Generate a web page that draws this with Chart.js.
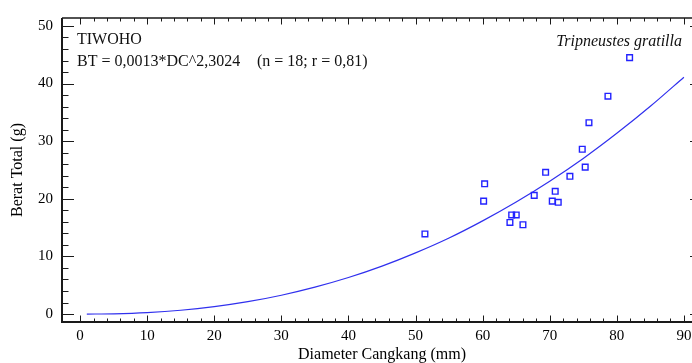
<!DOCTYPE html>
<html><head><meta charset="utf-8">
<script src="https://cdn.jsdelivr.net/npm/chart.js@4.4.0/dist/chart.umd.min.js"></script>
<style>html,body{margin:0;padding:0;background:#fff;overflow:hidden;width:692px;height:363px}canvas{display:block}</style>
</head><body>
<canvas id="c" width="712" height="363" style="width:712px;height:363px"></canvas>
<script>
// Observed data (Diameter Cangkang mm vs Berat Total g)
const diameter = [51.4, 60.3, 60.15, 64.07, 64.33, 65.01, 66.01, 67.69, 69.39, 70.82, 70.38, 71.27, 73.01, 74.85, 75.29, 75.85, 78.68, 81.91];
const beratTotal = [13.9, 22.6, 19.6, 15.9, 17.2, 17.2, 15.5, 20.6, 24.6, 21.3, 19.6, 19.4, 23.9, 28.6, 25.5, 33.2, 37.8, 44.5];
// Fitted curve
const curveX = [1, 5, 10, 15, 20, 25, 30, 35, 40, 45, 50, 55, 60, 65, 70, 75, 80, 85, 90];
const curveY = [0.0, 0.05, 0.26, 0.66, 1.29, 2.15, 3.27, 4.67, 6.34, 8.32, 10.62, 13.2, 16.17, 19.44, 23.05, 27.0, 31.36, 36.05, 41.1];
// Tick labels
const xTicks = [0, 10, 20, 30, 40, 50, 60, 70, 80, 90];
const yTicks = [0, 10, 20, 30, 40, 50];
const minorStep = 2;

const FONT = 'Liberation Serif';
const AXIS = '#1a1a1a';

const framePlugin = {
  id: 'frame',
  afterDatasetsDraw(chart) {
    const {ctx, chartArea: a, scales: {x, y}} = chart;
    ctx.save();
    ctx.strokeStyle = AXIS;
    ctx.lineWidth = 1;
    const x0 = xTicks[0], x1 = xTicks[xTicks.length - 1];
    const y0 = yTicks[0], y1 = yTicks[yTicks.length - 1];
    ctx.beginPath();
    for (let v = x0; v <= x1 + 1e-9; v += minorStep) {
      const px = Math.round(x.getPixelForValue(v)) + 0.5;
      const major = Math.abs(v % 10) < 1e-9;
      const len = major ? 6.5 : 3.5;
      ctx.moveTo(px, a.bottom); ctx.lineTo(px, a.bottom - len);
      ctx.moveTo(px, a.top); ctx.lineTo(px, a.top + len);
    }
    for (let v = y0; v <= y1 + 1e-9; v += minorStep) {
      const py = Math.round(y.getPixelForValue(v)) + 0.5;
      const major = Math.abs(v % 10) < 1e-9;
      const len = major ? 12 : 6.5;
      ctx.moveTo(a.left, py); ctx.lineTo(a.left + len, py);
      ctx.moveTo(a.right, py); ctx.lineTo(a.right - len, py);
    }
    ctx.stroke();
    ctx.lineWidth = 2;
    ctx.beginPath();
    ctx.moveTo(a.left, a.top); ctx.lineTo(a.left, a.bottom); ctx.lineTo(a.right, a.bottom);
    ctx.stroke();
    ctx.lineWidth = 1.6;
    ctx.beginPath();
    ctx.moveTo(a.left, a.top); ctx.lineTo(a.right, a.top); ctx.lineTo(a.right, a.bottom);
    ctx.stroke();
    ctx.restore();
  },
  afterDraw(chart) {
    const {ctx, chartArea: a} = chart;
    ctx.save();
    ctx.fillStyle = '#111';
    ctx.textBaseline = 'alphabetic';
    ctx.font = '16px "' + FONT + '"';
    ctx.textAlign = 'left';
    ctx.fillText('TIWOHO', a.left + 15, a.top + 26);
    ctx.fillText('BT = 0,0013*DC^2,3024', a.left + 15, a.top + 48);
    ctx.fillText('(n = 18; r = 0,81)', a.left + 195, a.top + 48);
    ctx.font = 'italic 16px "' + FONT + '"';
    ctx.textAlign = 'right';
    ctx.fillText('Tripneustes gratilla', a.left + 620, a.top + 28);
    ctx.restore();
  }
};

new Chart(document.getElementById('c').getContext('2d'), {
  type: 'scatter',
  data: {
    datasets: [
      {
        label: 'Data',
        data: diameter.map((v, i) => ({x: v, y: beratTotal[i]})),
        pointStyle: 'rect',
        pointRadius: 4,
        borderColor: '#2222ff',
        backgroundColor: 'rgba(0,0,0,0)',
        borderWidth: 1.4,
        order: 1
      },
      {
        label: 'Fit',
        data: curveX.map((v, i) => ({x: v, y: curveY[i]})),
        showLine: true,
        borderColor: '#3030ee',
        borderWidth: 1.2,
        pointRadius: 0,
        tension: 0.3,
        order: 2
      }
    ]
  },
  options: {
    responsive: false,
    animation: false,
    devicePixelRatio: 1,
    layout: {padding: {top: 15, right: 10, bottom: 0, left: 0}},
    plugins: {legend: {display: false}, tooltip: {enabled: false}},
    scales: {
      x: {
        type: 'linear', min: -2.7, max: 92.7,
        grid: {display: false, drawTicks: false},
        border: {display: false},
        afterBuildTicks: s => { s.ticks = xTicks.map(v => ({value: v})); },
        afterFit: s => { s.height = 41; },
        ticks: {font: {family: FONT, size: 15}, color: '#000', padding: 5, maxRotation: 0, autoSkip: false},
        title: {display: true, text: 'Diameter Cangkang (mm)', color: '#000', font: {family: FONT, size: 16, lineHeight: 1}, padding: 0}
      },
      y: {
        type: 'linear', min: -1.375, max: 51.375,
        grid: {display: false, drawTicks: false},
        border: {display: false},
        afterBuildTicks: s => { s.ticks = yTicks.map(v => ({value: v})); },
        afterFit: s => { s.width = 62; },
        ticks: {font: {family: FONT, size: 15}, color: '#000', padding: 9, autoSkip: false},
        title: {display: true, text: 'Berat Total (g)', color: '#000', font: {family: FONT, size: 16, lineHeight: 1}, padding: {top: 10, bottom: 0}}
      }
    }
  },
  plugins: [framePlugin]
});
</script>
</body></html>
